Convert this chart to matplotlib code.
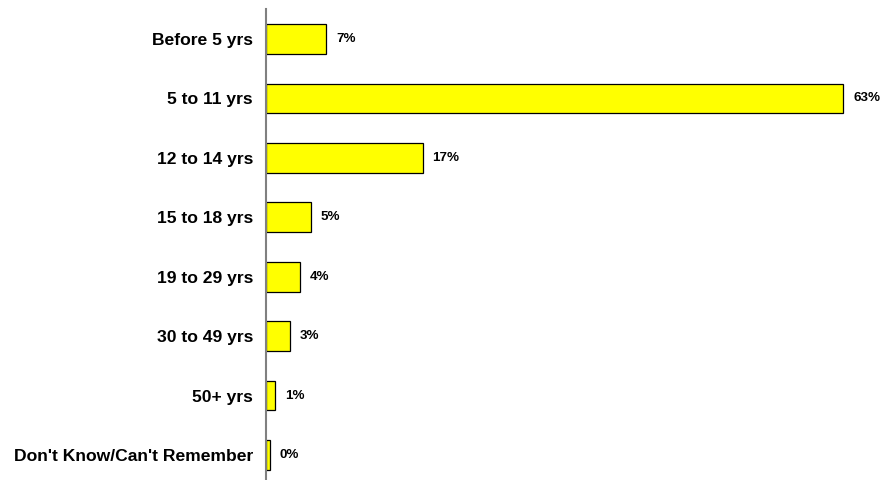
import matplotlib
matplotlib.use("Agg")
import matplotlib.pyplot as plt

categories = [
    "Before 5 yrs",
    "5 to 11 yrs",
    "12 to 14 yrs",
    "15 to 18 yrs",
    "19 to 29 yrs",
    "30 to 49 yrs",
    "50+ yrs",
    "Don't Know/Can't Remember",
]
values = [6.6, 63.0, 17.1, 4.9, 3.7, 2.6, 1.0, 0.4]

W, H = 881, 480
fig = plt.figure(figsize=(W / 100, H / 100), dpi=100)
plt.rcParams["font.family"] = ["Liberation Sans", "DejaVu Sans"]

# axes spans y from ~9 px to ~485 px (slightly below the canvas)
left_px, right_px = 266, 866
top_px, bottom_px = 9.25, 484.75
ax = fig.add_axes([left_px / W, (H - bottom_px) / H,
                   (right_px - left_px) / W, (bottom_px - top_px) / H])

px_per_unit = 577 / 63.0
ax.set_xlim(0, (right_px - left_px) / px_per_unit)

y = list(range(len(categories)))
ax.barh(y, values, height=0.5, color="#ffff00", edgecolor="#000000",
        linewidth=0.9, zorder=2)
ax.set_ylim(len(categories) - 0.5, -0.5)

for yi, v in zip(y, values):
    ax.text(v + 10 / px_per_unit, yi, f"{v:.0f}%", va="center", ha="left",
            fontsize=9.6, fontweight="bold", color="#000000")

ax.set_yticks(y)
ax.set_yticklabels(categories, fontsize=12.6, fontweight="bold")
ax.tick_params(axis="y", length=0, pad=9.4)
ax.set_xticks([])

for s in ["top", "right", "bottom"]:
    ax.spines[s].set_visible(False)
ax.spines["left"].set_color("#808080")
ax.spines["left"].set_linewidth(1.5)
ax.spines["left"].set_zorder(3)

fig.savefig("out.png", dpi=100, facecolor="white")
